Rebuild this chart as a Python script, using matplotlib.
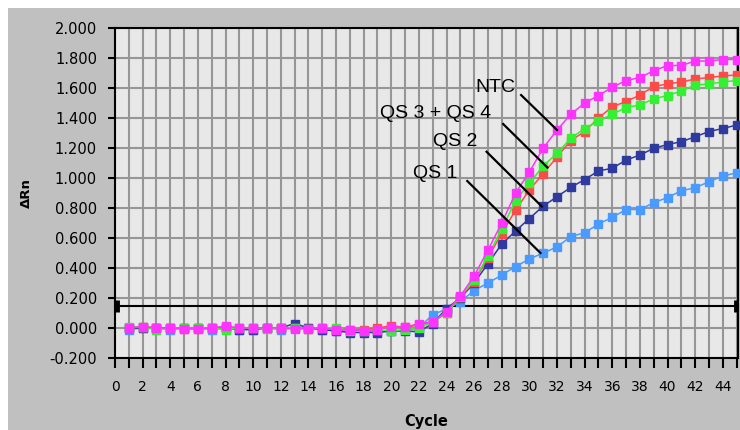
import numpy as np
import matplotlib
matplotlib.use('Agg')
import matplotlib.pyplot as plt
from matplotlib.patches import Rectangle

# cycles 1..45
cycles = np.arange(1, 46)

ntc = [0.00, 0.01, 0.00, 0.00, -0.005, -0.005, 0.00, 0.013, 0.00, 0.00,
       0.00, 0.00, -0.005, -0.005, 0.00, -0.013, -0.013, -0.017, -0.01, 0.01,
       0.004, 0.03, 0.04, 0.11, 0.213, 0.347, 0.52, 0.70, 0.90, 1.04,
       1.20, 1.32, 1.425, 1.50, 1.55, 1.605, 1.65, 1.67, 1.715, 1.75,
       1.75, 1.78, 1.78, 1.79, 1.79]
qs4 = [0.00, 0.01, 0.00, 0.00, -0.005, -0.005, 0.00, 0.005, 0.00, 0.00,
       0.00, 0.00, 0.00, -0.005, 0.00, -0.01, -0.01, -0.01, 0.00, 0.015,
       0.005, 0.02, 0.04, 0.10, 0.205, 0.31, 0.47, 0.63, 0.787, 0.92,
       1.03, 1.14, 1.25, 1.31, 1.40, 1.475, 1.51, 1.553, 1.61, 1.627,
       1.64, 1.66, 1.67, 1.68, 1.687]
qs3 = [0.01, 0.005, -0.01, 0.00, 0.00, 0.00, 0.00, -0.01, 0.00, 0.00,
       -0.005, 0.00, 0.00, -0.005, 0.00, 0.00, -0.02, -0.02, -0.01, -0.02,
       -0.01, 0.00, 0.04, 0.10, 0.21, 0.32, 0.48, 0.66, 0.85, 0.965,
       1.08, 1.165, 1.265, 1.33, 1.38, 1.425, 1.47, 1.487, 1.527, 1.55,
       1.58, 1.62, 1.627, 1.64, 1.65]
qs2 = [0.00, 0.00, 0.00, 0.00, 0.00, 0.00, 0.00, 0.00, -0.01, -0.01,
       0.00, 0.00, 0.03, 0.00, -0.01, -0.02, -0.03, -0.03, -0.03, -0.02,
       -0.02, -0.025, 0.03, 0.13, 0.20, 0.30, 0.43, 0.56, 0.647, 0.73,
       0.813, 0.875, 0.938, 0.99, 1.047, 1.065, 1.12, 1.153, 1.198, 1.223,
       1.242, 1.275, 1.31, 1.33, 1.353]
qs1 = [-0.01, 0.00, 0.00, -0.01, 0.00, 0.00, -0.01, 0.00, -0.01, -0.01,
       0.00, -0.01, 0.00, 0.00, -0.01, -0.02, -0.02, -0.02, -0.02, -0.02,
       -0.015, 0.00, 0.09, 0.125, 0.175, 0.25, 0.30, 0.353, 0.41, 0.46,
       0.50, 0.54, 0.61, 0.635, 0.693, 0.738, 0.79, 0.79, 0.835, 0.87,
       0.915, 0.935, 0.975, 1.013, 1.035]

threshold = 0.145

labels = ['NTC', 'QS 3 + QS 4', 'QS 2', 'QS 1']
label_xy = [(27.55, 1.60), (23.2, 1.43), (24.6, 1.24), (23.2, 1.03)]
line_from = [(29.4, 1.553), (28.1, 1.36), (26.9, 1.175), (25.5, 0.98)]
line_to = [(32.0, 1.32), (31.3, 1.07), (30.9, 0.81), (30.8, 0.50)]

fig = plt.figure(figsize=(7.4, 4.3), dpi=100, facecolor='white')
fig.patches.append(Rectangle((8/740, 0), 1 - 8/740, 1 - 8/430, transform=fig.transFigure,
                             facecolor='#c0c0c0', edgecolor='none', zorder=-10))
ax = fig.add_axes([115/740, 1 - 358/430, (738 - 115)/740, (358 - 28)/430])
ax.set_facecolor('#e8e8e8')

ax.set_xlim(0, 45.1)
ax.set_ylim(-0.2, 2.0)
ax.set_xticks(np.arange(0, 46, 1), minor=True)
ax.set_xticks(np.arange(0, 45, 2))
ax.set_yticks(np.arange(-0.2, 2.01, 0.2))
ax.set_yticklabels(['%.3f' % v for v in np.arange(-0.2, 2.01, 0.2)])
ax.grid(True, which='both', axis='x', color='#969696', lw=1.5)
ax.grid(True, which='major', axis='y', color='#969696', lw=1.5)
ax.set_axisbelow(True)
for s in ax.spines.values():
    s.set_color('black')
    s.set_linewidth(1.5)

ax.tick_params(axis='x', which='both', direction='out', length=7, width=1.5, pad=9, labelsize=10)
ax.tick_params(axis='y', direction='out', length=5, width=1.5, pad=8, labelsize=10.5)

ax.set_xlabel('Cycle', fontsize=10.5, fontweight='bold', labelpad=14)
ax.set_ylabel('ΔRn', fontsize=9.5, fontweight='bold', labelpad=12)

# threshold line with its end handles
ax.plot([0, 45.1], [threshold, threshold], color='black', lw=1.5, zorder=3, clip_on=False)
ax.plot([0.12, 44.98], [threshold, threshold], '|', color='black', ms=8, mew=3.5, zorder=3, clip_on=False)

series = [(qs1, '#4a9bff'), (qs2, '#2e3a9e'), (qs4, '#ff4a4a'), (qs3, '#33f033'), (ntc, '#ff33ff')]
for vals, c in series:
    ax.plot(cycles, vals, color=c, lw=1.1, marker='s', ms=5.3, mec=c, mfc=c, zorder=4, clip_on=False)

for t, xy, a, b in zip(labels, label_xy, line_from, line_to):
    ax.text(xy[0], xy[1], t, ha='center', va='center', fontsize=14,
            family='Liberation Sans', zorder=6)
    ax.plot([a[0], b[0]], [a[1], b[1]], color='black', lw=1.6, zorder=5)

fig.savefig('out.png', dpi=100, facecolor=fig.get_facecolor())
